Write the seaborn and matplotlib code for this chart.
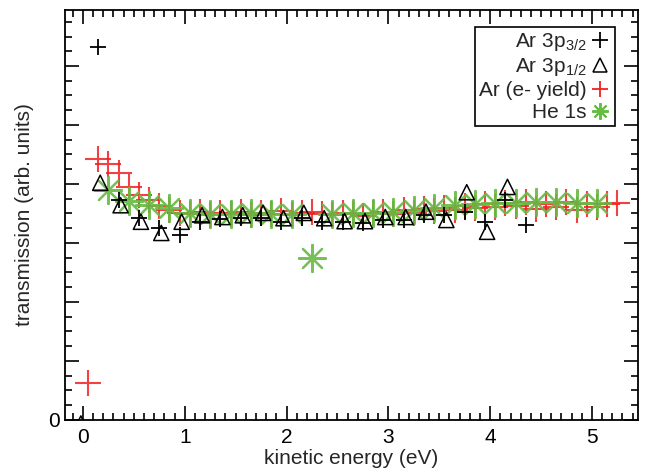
import numpy as np
import pandas as pd
import matplotlib
matplotlib.use("Agg")
import matplotlib.pyplot as plt
import seaborn as sns
from matplotlib.ticker import MultipleLocator
from matplotlib.lines import Line2D

# ---- data ----
p32_x = [0.15, 0.35, 0.55, 0.75, 0.95, 1.15, 1.35, 1.55, 1.75, 1.95, 2.15,
         2.35, 2.55, 2.75, 2.95, 3.15, 3.35, 3.55, 3.75, 3.95, 4.15, 4.35]
p32_y = [6.32, 3.73, 3.42, 3.25, 3.14, 3.36, 3.41, 3.42, 3.42, 3.36, 3.42,
         3.36, 3.36, 3.34, 3.39, 3.39, 3.47, 3.47, 3.53, 3.36, 3.73, 3.31]

p12_x = [-0.02, 0.17, 0.37, 0.57, 0.77, 0.97, 1.17, 1.37, 1.57, 1.77, 1.97,
         2.17, 2.37, 2.57, 2.77, 2.97, 3.17, 3.37, 3.57, 3.77, 3.97, 4.17]
p12_y = [-0.06, 4.02, 3.64, 3.36, 3.17, 3.36, 3.47, 3.44, 3.47, 3.51, 3.42,
         3.51, 3.42, 3.37, 3.37, 3.44, 3.44, 3.53, 3.39, 3.86, 3.19, 3.95]

ey_x = [0.05, 0.15, 0.25, 0.35, 0.45, 0.55, 0.65, 0.75, 0.85, 0.95,
        1.05, 1.15, 1.25, 1.35, 1.45, 1.55, 1.65, 1.75, 1.85, 1.95,
        2.05, 2.15, 2.25, 2.35, 2.45, 2.55, 2.65, 2.75, 2.85, 2.95,
        3.05, 3.15, 3.25, 3.35, 3.45, 3.55, 3.65, 3.75, 3.85, 3.95,
        4.05, 4.15, 4.25, 4.35, 4.45, 4.55, 4.65, 4.75, 4.85, 4.95,
        5.05, 5.15, 5.25]
ey_y = [0.63, 4.42, 4.34, 4.19, 3.95, 3.81, 3.73, 3.63, 3.56, 3.51,
        3.49, 3.53, 3.47, 3.51, 3.49, 3.53, 3.47, 3.51, 3.49, 3.54,
        3.47, 3.51, 3.53, 3.49, 3.47, 3.51, 3.49, 3.46, 3.51, 3.53,
        3.49, 3.56, 3.51, 3.58, 3.54, 3.59, 3.56, 3.63, 3.59, 3.66,
        3.61, 3.68, 3.63, 3.69, 3.58, 3.66, 3.61, 3.69, 3.56, 3.66,
        3.61, 3.66, 3.68]

he_x = [0.25, 0.45, 0.65, 0.85, 1.05, 1.25, 1.45, 1.65, 1.85, 2.05, 2.25,
        2.45, 2.65, 2.85, 3.05, 3.25, 3.45, 3.65, 3.85, 4.05, 4.25, 4.45,
        4.65, 4.85, 5.05]
he_y = [3.90, 3.71, 3.64, 3.59, 3.51, 3.49, 3.49, 3.51, 3.49, 3.49, 2.75,
        3.49, 3.51, 3.51, 3.53, 3.56, 3.59, 3.64, 3.66, 3.68, 3.68, 3.69,
        3.69, 3.68, 3.68]

labels = ["Ar 3p$_{3/2}$", "Ar 3p$_{1/2}$", "Ar (e- yield)", "He 1s"]

sns.set_style("ticks")
plt.rcParams['font.family'] = ['Liberation Sans', 'DejaVu Sans']
plt.rcParams['mathtext.fontset'] = 'custom'
plt.rcParams['mathtext.rm'] = 'Liberation Sans'

fig = plt.figure(figsize=(6.49, 4.74), dpi=100)
ax = fig.add_axes([0.100, 0.114, 0.883, 0.865])

red = '#f02020'
green = '#66bb44'
star = (8, 2, 0)

df_ey = pd.DataFrame({"x": ey_x, "y": ey_y})
df_he = pd.DataFrame({"x": he_x, "y": he_y})
df_32 = pd.DataFrame({"x": p32_x, "y": p32_y})
df_12 = pd.DataFrame({"x": p12_x, "y": p12_y})

sns.scatterplot(data=df_ey, x="x", y="y", ax=ax, marker='+', s=330,
                color=red, linewidths=1.5, alpha=0.85, zorder=2, legend=False)
sns.scatterplot(data=df_he, x="x", y="y", ax=ax, marker=star, s=380,
                color=green, linewidths=1.6, alpha=0.9, zorder=3, legend=False)
sns.scatterplot(data=df_32, x="x", y="y", ax=ax, marker='+', s=130,
                color='black', linewidths=1.3, zorder=4, legend=False)
sns.scatterplot(data=df_12, x="x", y="y", ax=ax, marker='^', s=120,
                facecolor='none', edgecolor='black', linewidth=1.1,
                zorder=5, legend=False)

ax.set_xlim(-0.177, 5.452)
ax.set_ylim(0, 6.95)
ax.xaxis.set_major_locator(MultipleLocator(1))
ax.xaxis.set_minor_locator(MultipleLocator(0.1))
ax.yaxis.set_major_locator(MultipleLocator(1))
ax.yaxis.set_minor_locator(MultipleLocator(0.25))
ax.yaxis.set_major_formatter(plt.FuncFormatter(lambda v, p: "0" if abs(v) < 1e-9 else ""))
ax.tick_params(which='both', direction='in', top=True, right=True, width=1.2,
               labelsize=15, colors='black')
ax.tick_params(which='major', length=10)
ax.tick_params(which='minor', length=5)
ax.tick_params(axis='x', pad=6)
for sp in ax.spines.values():
    sp.set_linewidth(1.3)
    sp.set_color('black')

ax.set_xlabel("kinetic energy (eV)", fontsize=15, labelpad=1)
ax.set_ylabel("transmission (arb. units)", fontsize=15, labelpad=10)

handles = [
    Line2D([], [], ls='', marker='+', ms=11, mew=1.3, color='black'),
    Line2D([], [], ls='', marker='^', ms=10, mew=1.1, mfc='none', mec='black'),
    Line2D([], [], ls='', marker='+', ms=12, mew=1.3, color=red),
    Line2D([], [], ls='', marker=star, ms=12, mew=1.4, color=green),
]
leg = ax.legend(handles, labels,
                loc='upper right', bbox_to_anchor=(0.96, 0.959),
                markerfirst=False, fontsize=15, frameon=True, fancybox=False,
                edgecolor='black', handletextpad=0.15, borderpad=0.2,
                labelspacing=0.15, handlelength=1.0, borderaxespad=0.0)
leg.get_frame().set_linewidth(1.2)
leg.get_frame().set_alpha(1)

fig.savefig("out.png", dpi=100)
